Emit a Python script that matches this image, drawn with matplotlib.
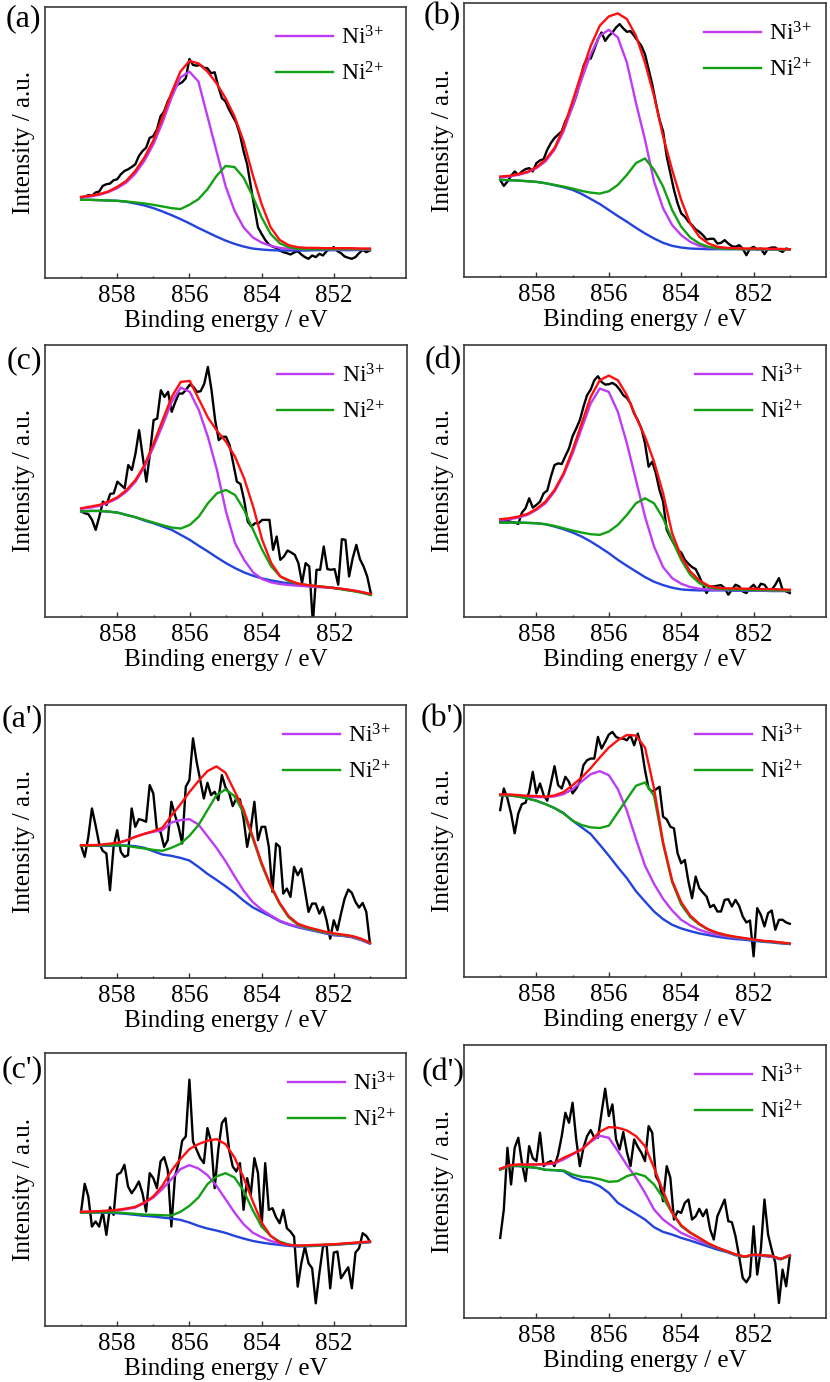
import matplotlib
matplotlib.use('Agg')
import matplotlib.pyplot as plt
from matplotlib.ticker import FixedLocator, NullFormatter

plt.rcParams['font.family'] = ['Liberation Serif', 'DejaVu Serif']
plt.rcParams['mathtext.fontset'] = 'custom'
plt.rcParams['mathtext.rm'] = 'Liberation Serif'
plt.rcParams['mathtext.it'] = 'Liberation Serif:italic'

# binding energy grids (eV)
e_raw = [859.0, 858.9, 858.8, 858.7, 858.6, 858.5, 858.4, 858.3, 858.2, 858.1, 858.0,
         857.9, 857.8, 857.7, 857.6, 857.5, 857.4, 857.3, 857.2, 857.1, 857.0,
         856.9, 856.8, 856.7, 856.6, 856.5, 856.4, 856.3, 856.2, 856.1, 856.0,
         855.9, 855.8, 855.7, 855.6, 855.5, 855.4, 855.3, 855.2, 855.1, 855.0,
         854.9, 854.8, 854.7, 854.6, 854.5, 854.4, 854.3, 854.2, 854.1, 854.0,
         853.9, 853.8, 853.7, 853.6, 853.5, 853.4, 853.3, 853.2, 853.1, 853.0,
         852.9, 852.8, 852.7, 852.6, 852.5, 852.4, 852.3, 852.2, 852.1, 852.0,
         851.9, 851.8, 851.7, 851.6, 851.5, 851.4, 851.3, 851.2, 851.1, 851.0]
e_fit = [859.0, 858.75, 858.5, 858.25, 858.0, 857.75, 857.5, 857.25, 857.0,
         856.75, 856.5, 856.25, 856.0, 855.75, 855.5, 855.25, 855.0,
         854.75, 854.5, 854.25, 854.0, 853.75, 853.5, 853.25, 853.0,
         852.75, 852.5, 852.25, 852.0, 851.75, 851.5, 851.25, 851.0]

# ---- (a)
raw_a = [243, 245, 250, 248, 258, 261, 278, 283, 285, 295, 298,
         313, 323, 328, 335, 343, 368, 383, 393, 423, 428,
         448, 488, 503, 533, 553, 578, 585, 591, 603, 661,
         643, 641, 643, 635, 633, 618, 621, 578, 543, 533,
         508, 488, 468, 433, 383, 343, 278, 213, 153, 133,
         115, 101, 95, 91, 83, 78, 75, 71, 77, 81,
         71, 63, 58, 68, 63, 73, 68, 81, 88, 93,
         81, 75, 65, 61, 58, 63, 75, 85, 78, 83]
bg_a = [236, 236, 235, 234, 233, 230, 225, 219, 211, 201, 190, 178, 165,
        151, 138, 125, 113, 103, 95, 89, 86, 84, 83, 83, 83,
        83, 84, 84, 84, 84, 84, 85, 85]
ni2_a = [236, 236, 235, 234, 233, 231, 228, 225, 221, 216, 211, 208, 221,
         238, 268, 308, 338, 335, 303, 248, 183, 133, 105, 93, 88,
         87, 87, 87, 87, 87, 87, 87, 87]
ni3_a = [243, 246, 251, 259, 271, 288, 315, 353, 403, 468, 543, 605, 623,
         593, 488, 383, 278, 203, 153, 123, 107, 97, 91, 88, 87,
         87, 87, 87, 86, 86, 86, 86, 86]
env_a = [245, 248, 253, 261, 275, 293, 323, 363, 415, 483, 558, 623, 655,
         648, 623, 588, 543, 488, 413, 313, 223, 153, 115, 99, 93,
         91, 91, 90, 90, 90, 90, 89, 89]

# ---- (b)
raw_b = [290, 272, 285, 302, 315, 305, 315, 322, 325, 315, 340,
         348, 352, 380, 400, 415, 425, 435, 465, 485, 510,
         540, 580, 630, 652, 652, 680, 710, 730, 705, 720,
         730, 745, 755, 742, 732, 734, 720, 705, 690, 665,
         620, 575, 520, 470, 435, 360, 310, 260, 220, 190,
         180, 165, 155, 142, 135, 125, 112, 114, 114, 100,
         102, 110, 100, 92, 90, 95, 85, 65, 85, 90,
         82, 85, 68, 85, 88, 88, 80, 75, 85, 82]
bg_b = [290, 289, 288, 286, 284, 280, 274, 268, 260, 248, 233, 218, 200,
        182, 165, 147, 130, 115, 102, 93, 88, 85, 84, 83, 83,
        83, 83, 83, 83, 83, 82, 82, 82]
ni2_b = [290, 289, 288, 286, 284, 280, 275, 270, 264, 257, 252, 249, 256,
         275, 305, 340, 354, 320, 270, 200, 150, 118, 100, 90, 86,
         84, 84, 83, 83, 83, 83, 82, 82]
ni3_b = [297, 300, 305, 312, 325, 345, 380, 435, 510, 590, 665, 720, 738,
         715, 640, 520, 410, 285, 205, 155, 125, 105, 93, 88, 85,
         84, 84, 84, 83, 83, 83, 82, 82]
env_b = [300, 302, 307, 314, 328, 350, 385, 445, 525, 610, 690, 750, 778,
         787, 770, 720, 640, 540, 420, 320, 230, 160, 120, 100, 90,
         87, 86, 85, 85, 85, 84, 84, 83]

# ---- (c)
raw_c = [317, 312, 309, 292, 262, 302, 347, 337, 370, 372, 407,
         397, 387, 457, 442, 492, 562, 482, 407, 492, 592,
         597, 682, 662, 677, 617, 647, 672, 672, 684, 699,
         692, 677, 679, 702, 752, 682, 592, 532, 542, 542,
         517, 462, 407, 400, 352, 287, 272, 282, 282, 292,
         292, 292, 202, 242, 172, 182, 200, 194, 187, 162,
         102, 162, 152, -20, 142, 142, 212, 144, 142, 144,
         97, 234, 232, 122, 177, 217, 174, 152, 122, 72]
bg_c = [317, 319, 319, 317, 314, 307, 300, 290, 282, 272, 262, 247, 232,
        214, 197, 179, 162, 147, 134, 124, 116, 110, 105, 101, 98,
        95, 92, 90, 87, 83, 79, 74, 67]
ni2_c = [317, 319, 319, 317, 314, 307, 300, 292, 284, 276, 269, 266, 277,
         302, 342, 372, 382, 367, 322, 262, 202, 152, 122, 107, 100,
         96, 93, 90, 87, 82, 78, 73, 66]
ni3_c = [325, 329, 334, 344, 357, 377, 407, 452, 512, 577, 647, 690, 677,
         622, 542, 442, 317, 222, 172, 134, 114, 104, 99, 96, 94,
         92, 90, 89, 87, 84, 80, 75, 68]
env_c = [327, 332, 337, 347, 360, 382, 412, 457, 522, 592, 662, 707, 710,
         655, 600, 560, 527, 482, 417, 332, 232, 162, 122, 110, 100,
         96, 93, 90, 87, 84, 80, 75, 69]

# ---- (d)
raw_d = [287, 290, 289, 286, 284, 280, 314, 327, 357, 329, 337,
         347, 372, 380, 422, 457, 462, 460, 484, 507, 544,
         567, 592, 632, 667, 684, 712, 724, 707, 699, 700,
         704, 697, 684, 667, 659, 642, 612, 592, 567, 522,
         452, 467, 432, 382, 347, 262, 240, 220, 202, 194,
         172, 160, 150, 144, 122, 97, 72, 92, 92, 94,
         96, 87, 67, 82, 97, 92, 77, 72, 87, 97,
         82, 100, 97, 82, 82, 97, 117, 82, 77, 72]
bg_d = [284, 284, 284, 283, 282, 279, 272, 264, 254, 242, 227, 210, 192,
        172, 154, 137, 120, 106, 96, 88, 83, 81, 80, 80, 80,
        80, 79, 79, 79, 79, 78, 78, 78]
ni2_d = [284, 284, 284, 283, 282, 279, 274, 267, 260, 254, 249, 247, 257,
         277, 307, 342, 357, 342, 297, 232, 172, 127, 102, 90, 85,
         83, 82, 82, 81, 81, 80, 80, 79]
ni3_d = [292, 294, 299, 307, 322, 342, 377, 427, 492, 567, 642, 687, 677,
         617, 522, 412, 302, 212, 150, 117, 100, 90, 85, 83, 82,
         82, 81, 81, 80, 80, 79, 79, 79]
env_d = [294, 297, 302, 310, 325, 347, 382, 432, 502, 582, 662, 712, 726,
         712, 667, 602, 542, 467, 372, 252, 182, 137, 110, 94, 88,
         86, 86, 85, 85, 84, 84, 83, 82]

# ---- (a')
raw_a2 = [396, 363, 423, 508, 458, 403, 381, 373, 263, 393, 443,
          378, 363, 368, 508, 453, 476, 473, 468, 578, 553,
          443, 438, 393, 413, 528, 488, 453, 403, 573, 593,
          718, 648, 593, 538, 585, 548, 558, 533, 608, 571,
          555, 515, 538, 535, 478, 393, 448, 528, 413, 453,
          453, 393, 258, 403, 393, 253, 268, 243, 333, 308,
          328, 263, 198, 223, 223, 193, 213, 173, 118, 173,
          143, 193, 238, 265, 255, 228, 211, 225, 198, 105]
bg_a2 = [396, 396, 396, 396, 397, 397, 395, 390, 380, 370, 366, 360, 352,
         333, 312, 294, 275, 255, 232, 212, 198, 185, 170, 160, 152,
         146, 140, 134, 128, 126, 122, 114, 103]
ni2_a2 = [396, 396, 397, 398, 398, 396, 392, 388, 384, 381, 390, 402, 426,
          458, 503, 548, 565, 545, 495, 420, 340, 275, 222, 182, 160,
          150, 143, 137, 132, 128, 125, 117, 105]
ni3_a2 = [398, 397, 397, 400, 403, 412, 423, 432, 438, 443, 466, 473, 476,
          460, 425, 390, 350, 305, 262, 228, 205, 188, 172, 162, 154,
          148, 142, 136, 130, 127, 123, 115, 104]
env_a2 = [398, 398, 399, 402, 405, 412, 423, 432, 440, 450, 486, 520, 557,
          590, 620, 634, 615, 560, 505, 425, 345, 278, 225, 185, 163,
          153, 146, 139, 134, 130, 126, 118, 106]

# ---- (b')
raw_b2 = [502, 567, 537, 492, 432, 492, 520, 524, 557, 617, 552,
          582, 547, 530, 582, 634, 577, 567, 602, 587, 552,
          567, 587, 637, 652, 657, 657, 722, 687, 707, 729,
          737, 722, 717, 717, 712, 727, 697, 732, 692, 622,
          567, 557, 564, 572, 482, 474, 452, 447, 372, 342,
          352, 287, 237, 302, 267, 254, 242, 210, 217, 197,
          197, 232, 234, 212, 232, 214, 182, 164, 170, 62,
          207, 187, 152, 192, 200, 142, 172, 172, 164, 160]
bg_b2 = [547, 546, 543, 537, 530, 520, 508, 493, 470, 450, 430, 398, 365,
         330, 297, 258, 227, 197, 174, 157, 146, 138, 131, 126, 121,
         117, 114, 112, 109, 106, 104, 101, 99]
ni2_b2 = [547, 546, 543, 537, 530, 520, 508, 492, 470, 457, 450, 448, 455,
          495, 535, 575, 585, 545, 400, 285, 218, 180, 158, 142, 132,
          125, 120, 116, 112, 108, 106, 103, 100]
ni3_b2 = [547, 546, 544, 542, 541, 541, 543, 550, 565, 588, 610, 619, 607,
          565, 500, 415, 335, 280, 235, 200, 172, 155, 142, 133, 127,
          122, 118, 115, 112, 108, 106, 103, 100]
env_b2 = [549, 549, 547, 545, 544, 542, 546, 556, 577, 600, 628, 660, 690,
          712, 728, 726, 690, 567, 405, 290, 225, 185, 160, 143, 133,
          126, 121, 117, 113, 109, 107, 104, 101]

# ---- (c')
raw_c2 = [343, 426, 388, 298, 313, 298, 343, 273, 356, 333, 453,
          460, 483, 418, 398, 413, 433, 398, 343, 458, 443,
          413, 493, 506, 468, 298, 448, 488, 555, 568, 738,
          553, 528, 503, 488, 593, 553, 413, 528, 608, 623,
          528, 478, 463, 488, 348, 443, 393, 503, 458, 298,
          488, 348, 353, 326, 308, 348, 293, 283, 268, 118,
          188, 238, 188, 173, 68, 158, 238, 243, 113, 220,
          223, 143, 160, 176, 113, 220, 233, 278, 270, 253]
bg_c2 = [340, 340, 340, 339, 338, 336, 333, 330, 328, 325, 322, 318, 310,
         300, 292, 286, 279, 270, 262, 255, 250, 246, 243, 240, 238,
         239, 240, 242, 243, 245, 247, 249, 251]
ni2_c2 = [340, 340, 341, 341, 340, 338, 336, 334, 333, 332, 331, 342, 360,
          385, 425, 448, 458, 445, 405, 348, 298, 270, 253, 244, 240,
          240, 241, 243, 244, 246, 248, 250, 252]
ni3_c2 = [342, 342, 343, 344, 346, 350, 355, 368, 385, 410, 440, 470, 482,
          472, 452, 420, 380, 340, 305, 280, 266, 255, 248, 243, 240,
          240, 241, 243, 244, 246, 248, 250, 252]
env_c2 = [342, 343, 344, 346, 348, 352, 357, 370, 388, 420, 465, 500, 530,
          545, 555, 560, 545, 505, 445, 375, 310, 270, 250, 243, 241,
          242, 243, 244, 245, 247, 249, 251, 253]

# ---- (d')
raw_d2 = [240, 325, 510, 400, 510, 540, 465, 410, 515, 479, 470,
          555, 455, 465, 470, 455, 490, 545, 615, 585, 645,
          535, 455, 510, 545, 563, 540, 540, 615, 687, 605,
          640, 535, 505, 557, 497, 455, 535, 513, 495, 470,
          575, 555, 425, 405, 350, 455, 420, 295, 320, 315,
          345, 355, 295, 305, 327, 305, 325, 265, 235, 305,
          330, 355, 290, 287, 245, 185, 120, 107, 125, 275,
          130, 205, 355, 250, 205, 165, 45, 145, 95, 185]
bg_d2 = [445, 455, 455, 452, 450, 444, 443, 440, 422, 412, 407, 395, 375,
         345, 328, 312, 295, 272, 258, 250, 240, 232, 223, 214, 205,
         198, 188, 183, 188, 186, 183, 176, 187]
ni2_d2 = [445, 455, 456, 453, 450, 444, 443, 442, 430, 423, 421, 416, 408,
          410, 425, 433, 425, 400, 360, 315, 275, 255, 240, 222, 210,
          200, 190, 183, 190, 188, 186, 176, 187]
ni3_d2 = [447, 457, 459, 460, 460, 460, 463, 475, 490, 505, 528, 546, 540,
          500, 458, 420, 375, 325, 295, 275, 255, 243, 231, 220, 210,
          200, 190, 184, 189, 187, 184, 177, 188]
env_d2 = [447, 457, 460, 460, 460, 462, 465, 480, 492, 505, 530, 558, 572,
          570, 562, 545, 515, 450, 380, 315, 278, 256, 240, 224, 211,
          201, 191, 184, 190, 188, 186, 177, 188]

panels = [
    # label, raw, bg, ni3, ni2, env, axes box px (l, t, r, b), label px (x, y), legend x
    ('(a)', raw_a, bg_a, ni3_a, ni2_a, env_a, (45, 7, 406, 278), (6, 4), 0.64),
    ('(b)', raw_b, bg_b, ni3_b, ni2_b, env_b, (464, 3, 826, 277), (424, 2), 0.663),
    ('(c)', raw_c, bg_c, ni3_c, ni2_c, env_c, (45, 345, 407, 617), (7, 346), 0.64),
    ('(d)', raw_d, bg_d, ni3_d, ni2_d, env_d, (464, 345, 826, 617), (425, 346), 0.638),
    ("(a')", raw_a2, bg_a2, ni3_a2, ni2_a2, env_a2, (45, 705, 406, 978), (2, 704), 0.66),
    ("(b')", raw_b2, bg_b2, ni3_b2, ni2_b2, env_b2, (464, 705, 826, 977), (421, 704), 0.638),
    ("(c')", raw_c2, bg_c2, ni3_c2, ni2_c2, env_c2, (45, 1053, 406, 1326), (2, 1055), 0.673),
    ("(d')", raw_d2, bg_d2, ni3_d2, ni2_d2, env_d2, (464, 1045, 826, 1318), (422, 1058), 0.638),
]

W, H = 830, 1382
fig = plt.figure(figsize=(W / 100, H / 100), dpi=100)

for lab, raw, bg, ni3, ni2, env, box, lpos, legx in panels:
    l, t, r, b = box
    ax = fig.add_axes([l / W, 1 - b / H, (r - l) / W, (b - t) / H])
    ax.plot(e_raw, raw, color='black', lw=1.7, zorder=2)
    ax.plot(e_fit, bg, color='#2244DD', lw=1.7, zorder=3)
    h3, = ax.plot(e_fit, ni3, color='#BF3CF5', lw=1.7, zorder=4)
    h2, = ax.plot(e_fit, ni2, color='#13A013', lw=1.7, zorder=5)
    ax.plot(e_fit, env, color='#FF1010', lw=1.7, zorder=6)

    ax.set_xlim(860, 850)
    ax.set_ylim(0, 818)
    ax.xaxis.set_major_locator(FixedLocator([858, 856, 854, 852]))
    ax.xaxis.set_minor_locator(FixedLocator([859, 857, 855, 853, 851]))
    ax.xaxis.set_minor_formatter(NullFormatter())
    ax.set_yticks([])
    ax.tick_params(axis='x', which='major', direction='in', length=3.5, width=1.0,
                   pad=5, labelsize=18, color='#333333')
    ax.tick_params(axis='x', which='minor', direction='in', length=1.8, width=1.0,
                   color='#333333')
    for sp in ax.spines.values():
        sp.set_color('#3a3a3a')
        sp.set_linewidth(1.2)

    ax.set_xlabel('Binding energy / eV', fontsize=18, labelpad=2)
    ax.set_ylabel('Intensity / a.u.', fontsize=18, labelpad=7)

    ax.legend([h3, h2], [r'Ni$^{3{+}}$', r'Ni$^{2{+}}$'], loc='upper left',
              bbox_to_anchor=(legx, 0.93), frameon=False, fontsize=17,
              handlelength=2.4, handletextpad=0.35, labelspacing=0.55,
              borderpad=0, borderaxespad=0)

    fig.text(lpos[0] / W, 1 - lpos[1] / H, lab, fontsize=23, ha='left', va='top')

fig.savefig('out.png', dpi=100)
